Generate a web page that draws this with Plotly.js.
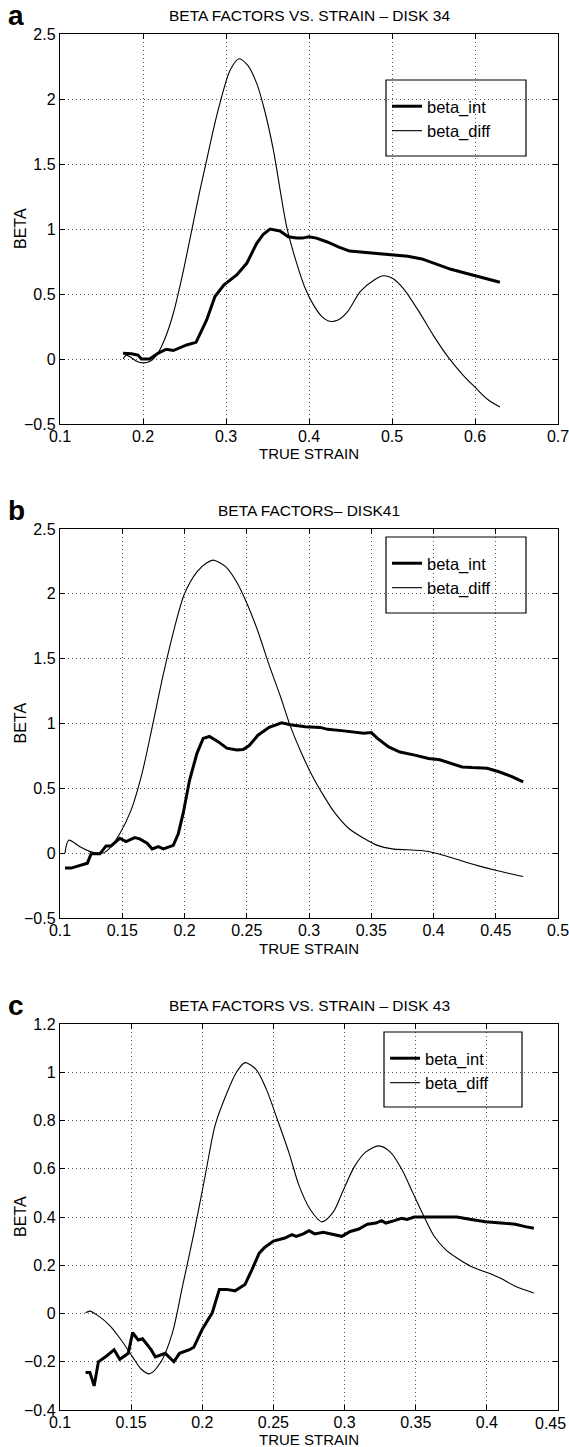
<!DOCTYPE html>
<html>
<head>
<meta charset="utf-8">
<script src="https://cdn.plot.ly/plotly-3.0.1.min.js"></script>
<style>
html,body{margin:0;padding:0;background:#fff;}
#chart{width:569px;height:1447px;}
</style>
</head>
<body>
<div id="chart"></div>
<script>
// ---------- Panel a : DISK 34 ----------
const xDiffA = [0.176,0.180,0.186,0.193,0.200,0.208,0.2165,0.226,0.2365,0.248,0.2587,0.268,0.2767,0.285,0.2928,0.3048,0.3157,0.326,0.337,0.347,0.357,0.373,0.384,0.395,0.405,0.415,0.425,0.435,0.446,0.462,0.479,0.490,0.501,0.514,0.532,0.550,0.567,0.585,0.602,0.615,0.630];
const yDiffA = [0.00,0.03,0.01,-0.02,-0.03,-0.02,0.03,0.15,0.35,0.66,0.99,1.28,1.53,1.77,1.97,2.22,2.31,2.26,2.12,1.90,1.61,1.02,0.76,0.55,0.42,0.33,0.29,0.30,0.36,0.52,0.61,0.64,0.62,0.54,0.37,0.18,0.02,-0.12,-0.23,-0.31,-0.37];
const xIntA = [0.176,0.186,0.194,0.198,0.208,0.218,0.228,0.2365,0.2526,0.2639,0.2767,0.2867,0.2976,0.3129,0.325,0.337,0.345,0.353,0.365,0.375,0.385,0.392,0.400,0.409,0.422,0.436,0.449,0.466,0.484,0.501,0.519,0.536,0.554,0.571,0.589,0.607,0.630];
const yIntA = [0.045,0.04,0.03,0.0,0.0,0.044,0.075,0.065,0.108,0.128,0.30,0.48,0.57,0.646,0.736,0.89,0.96,1.0,0.985,0.94,0.93,0.93,0.94,0.93,0.90,0.86,0.83,0.82,0.81,0.80,0.79,0.77,0.73,0.69,0.66,0.63,0.59];

// ---------- Panel b : DISK41 ----------
const xDiffB = [0.104,0.107,0.116,0.125,0.134,0.139,0.148,0.157,0.166,0.174,0.183,0.192,0.200,0.210,0.218,0.223,0.233,0.242,0.250,0.259,0.268,0.277,0.285,0.294,0.303,0.312,0.320,0.332,0.344,0.355,0.367,0.379,0.390,0.402,0.414,0.426,0.437,0.449,0.460,0.472];
const yDiffB = [0.0,0.10,0.05,0.01,0.0,0.03,0.15,0.33,0.62,0.97,1.38,1.74,2.0,2.17,2.24,2.26,2.21,2.09,1.93,1.71,1.45,1.21,0.98,0.77,0.59,0.44,0.32,0.19,0.115,0.06,0.033,0.026,0.02,0.0,-0.033,-0.07,-0.10,-0.13,-0.155,-0.18];
const xIntB = [0.104,0.109,0.122,0.125,0.132,0.137,0.141,0.145,0.148,0.153,0.160,0.164,0.170,0.174,0.179,0.183,0.191,0.195,0.199,0.204,0.210,0.215,0.220,0.227,0.234,0.242,0.247,0.252,0.259,0.268,0.278,0.285,0.297,0.309,0.315,0.326,0.338,0.344,0.350,0.355,0.364,0.373,0.385,0.396,0.405,0.414,0.423,0.431,0.443,0.452,0.463,0.472];
const yIntB = [-0.115,-0.115,-0.077,-0.005,-0.005,0.056,0.056,0.09,0.115,0.09,0.12,0.11,0.077,0.033,0.05,0.033,0.06,0.15,0.31,0.56,0.77,0.885,0.9,0.86,0.81,0.795,0.80,0.83,0.91,0.97,1.005,0.99,0.975,0.97,0.955,0.945,0.93,0.925,0.93,0.885,0.82,0.78,0.756,0.73,0.72,0.69,0.665,0.66,0.655,0.63,0.59,0.55];

// ---------- Panel c : DISK 43 ----------
const xDiffC = [0.118,0.121,0.127,0.135,0.143,0.151,0.157,0.163,0.171,0.179,0.186,0.194,0.202,0.209,0.217,0.224,0.230,0.238,0.245,0.253,0.261,0.268,0.276,0.284,0.292,0.299,0.307,0.315,0.324,0.332,0.340,0.348,0.356,0.363,0.371,0.379,0.389,0.400,0.410,0.420,0.433];
const yDiffC = [0.003,0.01,-0.01,-0.05,-0.11,-0.18,-0.23,-0.25,-0.20,-0.08,0.11,0.33,0.57,0.78,0.91,1.0,1.04,1.01,0.93,0.80,0.665,0.53,0.43,0.38,0.42,0.51,0.61,0.67,0.695,0.67,0.60,0.50,0.40,0.32,0.265,0.23,0.195,0.17,0.145,0.113,0.085];
const xIntC = [0.118,0.121,0.124,0.127,0.133,0.138,0.142,0.148,0.151,0.155,0.158,0.164,0.167,0.174,0.180,0.184,0.191,0.194,0.200,0.207,0.212,0.217,0.223,0.230,0.234,0.240,0.244,0.250,0.258,0.263,0.266,0.271,0.275,0.279,0.285,0.292,0.298,0.304,0.310,0.316,0.322,0.326,0.329,0.335,0.340,0.344,0.349,0.358,0.368,0.379,0.389,0.399,0.410,0.420,0.427,0.433];
const yIntC = [-0.245,-0.245,-0.30,-0.20,-0.175,-0.15,-0.19,-0.165,-0.08,-0.11,-0.105,-0.15,-0.18,-0.165,-0.20,-0.165,-0.15,-0.14,-0.065,0.003,0.10,0.10,0.094,0.12,0.17,0.25,0.275,0.30,0.313,0.327,0.32,0.33,0.343,0.33,0.337,0.327,0.32,0.34,0.35,0.37,0.375,0.385,0.375,0.385,0.395,0.39,0.40,0.40,0.40,0.40,0.39,0.38,0.375,0.37,0.36,0.353];

// tick values
const xTicksA = [0.1, 0.2, 0.3, 0.4, 0.5, 0.6, 0.7];
const xTicksB = [0.1, 0.15, 0.2, 0.25, 0.3, 0.35, 0.4, 0.45, 0.5];
const xTicksC = [0.1, 0.15, 0.2, 0.25, 0.3, 0.35, 0.4, 0.45];
const yTicksAB = [-0.5, 0, 0.5, 1, 1.5, 2, 2.5];
const yTicksC = [-0.4, -0.2, 0, 0.2, 0.4, 0.6, 0.8, 1, 1.2];

const panelTitles = ['BETA FACTORS VS. STRAIN \u2013 DISK 34', 'BETA FACTORS\u2013 DISK41', 'BETA FACTORS VS. STRAIN \u2013 DISK 43'];
const panelLetters = ['a', 'b', 'c'];
const seriesNames = ['beta_int', 'beta_diff'];
const xTitle = 'TRUE STRAIN';
const yTitle = 'BETA';

const W = 569, H = 1447;
const FONT = 'Liberation Sans, Arial, Helvetica, sans-serif';
const px2x = p => p / W;
const px2y = p => 1 - p / H;
const fmt = v => (v < 0 ? '\u2212' : '') + String(Math.abs(v));

// plot boxes in pixels: [left, right, top, bottom]
const boxes = [[60, 558, 34, 424], [60, 558, 529, 918], [60, 558, 1024, 1410]];
const legendBoxes = [[386, 526, 80, 156], [386, 526, 537, 613], [384, 522, 1032, 1107]];
const xTitleOffset = [30, 30, 29];

const sets = [
  {xi: xIntA, yi: yIntA, xd: xDiffA, yd: yDiffA, xt: xTicksA, yt: yTicksAB},
  {xi: xIntB, yi: yIntB, xd: xDiffB, yd: yDiffB, xt: xTicksB, yt: yTicksAB},
  {xi: xIntC, yi: yIntC, xd: xDiffC, yd: yDiffC, xt: xTicksC, yt: yTicksC}
];

const traces = [];
sets.forEach((s, i) => {
  const sfx = i === 0 ? '' : String(i + 1);
  const lg = i === 0 ? 'legend' : 'legend' + (i + 1);
  traces.push({x: s.xi, y: s.yi, type: 'scatter', mode: 'lines', name: seriesNames[0],
    xaxis: 'x' + sfx, yaxis: 'y' + sfx, legend: lg,
    line: {color: '#000', width: 3}});
  traces.push({x: s.xd, y: s.yd, type: 'scatter', mode: 'lines', name: seriesNames[1],
    xaxis: 'x' + sfx, yaxis: 'y' + sfx, legend: lg,
    line: {color: '#000', width: 1.1, shape: 'spline', smoothing: 0.8}});
});

const axisBase = {
  showline: true, linecolor: '#000', linewidth: 1.2, mirror: 'ticks',
  ticks: 'inside', ticklen: 5, tickcolor: '#000', tickwidth: 1,
  showgrid: true, gridcolor: '#555', griddash: '1px,3px', gridwidth: 1,
  zeroline: false, automargin: false, ticklabeloverflow: 'allow',
  tickfont: {family: FONT, size: 16, color: '#000'}
};

const layout = {
  width: W, height: H,
  margin: {l: 0, r: 0, t: 0, b: 0},
  paper_bgcolor: '#fff', plot_bgcolor: '#fff',
  font: {family: FONT, size: 15, color: '#000'},
  showlegend: true,
  annotations: [], shapes: []
};

const xRanges = [[0.1, 0.7], [0.1, 0.5], [0.1, 0.45]];
const yRanges = [[-0.5, 2.5], [-0.5, 2.5], [-0.4, 1.2]];

boxes.forEach((b, i) => {
  const s = sets[i];
  const sfx = i === 0 ? '' : String(i + 1);
  // the last x label of panel c would run past the page edge: it is drawn as a right-anchored annotation
  const lastOut = (i === 2);
  const xText = s.xt.map((v, k) => (lastOut && k === s.xt.length - 1) ? '' : String(v));
  layout['xaxis' + sfx] = Object.assign({}, axisBase, {
    domain: [px2x(b[0]), px2x(b[1])], anchor: 'y' + sfx,
    range: xRanges[i], tickmode: 'array', tickvals: s.xt, ticktext: xText,
    ticklabelstandoff: -2
  });
  layout['yaxis' + sfx] = Object.assign({}, axisBase, {
    domain: [px2y(b[3]), px2y(b[2])], anchor: 'x' + sfx,
    range: yRanges[i], tickmode: 'array', tickvals: s.yt, ticktext: s.yt.map(fmt)
  });
  if (lastOut) {
    layout.annotations.push({
      text: String(s.xt[s.xt.length - 1]), xref: 'paper', yref: 'paper',
      x: px2x(568), y: px2y(b[3] + 13), xanchor: 'right', yanchor: 'middle',
      showarrow: false, font: {family: FONT, size: 16, color: '#000'}
    });
  }
  // x axis title
  layout.annotations.push({
    text: xTitle, xref: 'paper', yref: 'paper',
    x: px2x((b[0] + b[1]) / 2), y: px2y(b[3] + xTitleOffset[i]), xanchor: 'center', yanchor: 'middle',
    showarrow: false, font: {family: FONT, size: 15, color: '#000'}
  });
  // y axis title
  layout.annotations.push({
    text: yTitle, xref: 'paper', yref: 'paper', textangle: -90,
    x: px2x(20), y: px2y((b[2] + b[3]) / 2), xanchor: 'center', yanchor: 'middle',
    showarrow: false, font: {family: FONT, size: 16, color: '#000'}
  });
  // panel title
  layout.annotations.push({
    text: panelTitles[i], xref: 'paper', yref: 'paper',
    x: px2x((b[0] + b[1]) / 2), y: px2y(b[2] - 18), xanchor: 'center', yanchor: 'middle',
    showarrow: false, font: {family: FONT, size: 15.5, color: '#000'}
  });
  // panel letter
  layout.annotations.push({
    text: '<b>' + panelLetters[i] + '</b>', xref: 'paper', yref: 'paper',
    x: px2x(6), y: px2y(b[2] - 19), xanchor: 'left', yanchor: 'middle',
    showarrow: false, font: {family: FONT, size: 28, color: '#000'}
  });
  // legend box + legend
  const lb = legendBoxes[i];
  layout.shapes.push({
    type: 'rect', xref: 'paper', yref: 'paper', layer: 'above',
    x0: px2x(lb[0]), x1: px2x(lb[1]), y0: px2y(lb[3]), y1: px2y(lb[2]),
    line: {color: '#000', width: 1.2}, fillcolor: 'rgba(0,0,0,0)'
  });
  const lgKey = i === 0 ? 'legend' : 'legend' + (i + 1);
  layout[lgKey] = {
    x: px2x(lb[0] + 1), y: px2y(lb[2] + 9), xanchor: 'left', yanchor: 'top',
    xref: 'paper', yref: 'paper',
    bgcolor: 'rgba(0,0,0,0)', borderwidth: 0,
    font: {family: FONT, size: 16.5, color: '#000'},
    tracegroupgap: 0, itemwidth: 30
  };
});

Plotly.newPlot('chart', traces, layout, {displayModeBar: false, staticPlot: true});
</script>
</body>
</html>
